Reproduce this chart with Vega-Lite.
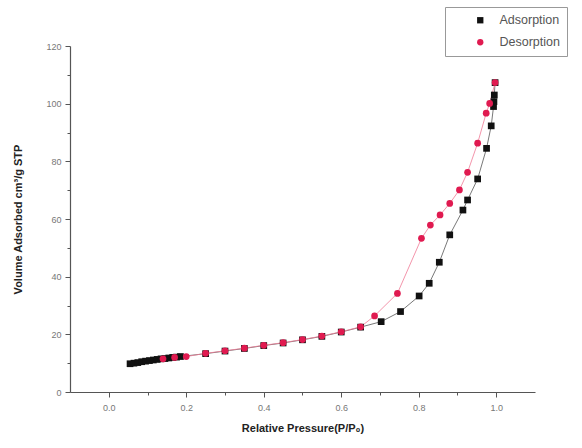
{
  "$schema": "https://vega.github.io/schema/vega-lite/v6.json",
  "width": 465,
  "height": 346,
  "autosize": "none",
  "padding": {"left": 70, "top": 46, "right": 47, "bottom": 56},
  "background": "white",
  "config": {
    "view": {"stroke": null},
    "font": "Liberation Sans"
  },
  "data": {
    "values": [
      {"series": "Adsorption", "p": 0.055, "v": 9.8},
      {"series": "Adsorption", "p": 0.065, "v": 10.0},
      {"series": "Adsorption", "p": 0.075, "v": 10.2},
      {"series": "Adsorption", "p": 0.085, "v": 10.5},
      {"series": "Adsorption", "p": 0.095, "v": 10.7},
      {"series": "Adsorption", "p": 0.105, "v": 10.9},
      {"series": "Adsorption", "p": 0.115, "v": 11.1},
      {"series": "Adsorption", "p": 0.125, "v": 11.3},
      {"series": "Adsorption", "p": 0.135, "v": 11.5},
      {"series": "Adsorption", "p": 0.145, "v": 11.6},
      {"series": "Adsorption", "p": 0.155, "v": 11.8},
      {"series": "Adsorption", "p": 0.165, "v": 12.0},
      {"series": "Adsorption", "p": 0.175, "v": 12.1},
      {"series": "Adsorption", "p": 0.185, "v": 12.3},
      {"series": "Adsorption", "p": 0.25, "v": 13.3},
      {"series": "Adsorption", "p": 0.3, "v": 14.2},
      {"series": "Adsorption", "p": 0.35, "v": 15.1},
      {"series": "Adsorption", "p": 0.4, "v": 16.1},
      {"series": "Adsorption", "p": 0.45, "v": 17.0},
      {"series": "Adsorption", "p": 0.5, "v": 18.1},
      {"series": "Adsorption", "p": 0.55, "v": 19.3},
      {"series": "Adsorption", "p": 0.6, "v": 20.8},
      {"series": "Adsorption", "p": 0.65, "v": 22.5},
      {"series": "Adsorption", "p": 0.703, "v": 24.4},
      {"series": "Adsorption", "p": 0.753, "v": 27.9},
      {"series": "Adsorption", "p": 0.801, "v": 33.3},
      {"series": "Adsorption", "p": 0.827, "v": 37.7},
      {"series": "Adsorption", "p": 0.853, "v": 45.0},
      {"series": "Adsorption", "p": 0.88, "v": 54.5},
      {"series": "Adsorption", "p": 0.914, "v": 63.1},
      {"series": "Adsorption", "p": 0.926, "v": 66.6},
      {"series": "Adsorption", "p": 0.952, "v": 73.9},
      {"series": "Adsorption", "p": 0.975, "v": 84.5},
      {"series": "Adsorption", "p": 0.987, "v": 92.3},
      {"series": "Adsorption", "p": 0.993, "v": 99.0},
      {"series": "Adsorption", "p": 0.994, "v": 100.7},
      {"series": "Adsorption", "p": 0.995, "v": 103.0},
      {"series": "Adsorption", "p": 0.997, "v": 107.3},
      {"series": "Desorption", "p": 0.14, "v": 11.5},
      {"series": "Desorption", "p": 0.17, "v": 12.0},
      {"series": "Desorption", "p": 0.2, "v": 12.3},
      {"series": "Desorption", "p": 0.25, "v": 13.4},
      {"series": "Desorption", "p": 0.3, "v": 14.3},
      {"series": "Desorption", "p": 0.35, "v": 15.2},
      {"series": "Desorption", "p": 0.4, "v": 16.2},
      {"series": "Desorption", "p": 0.45, "v": 17.1},
      {"series": "Desorption", "p": 0.5, "v": 18.2},
      {"series": "Desorption", "p": 0.55, "v": 19.4},
      {"series": "Desorption", "p": 0.6, "v": 20.9},
      {"series": "Desorption", "p": 0.65, "v": 22.6},
      {"series": "Desorption", "p": 0.686, "v": 26.4},
      {"series": "Desorption", "p": 0.745, "v": 34.2},
      {"series": "Desorption", "p": 0.807, "v": 53.3},
      {"series": "Desorption", "p": 0.83, "v": 57.9},
      {"series": "Desorption", "p": 0.855, "v": 61.4},
      {"series": "Desorption", "p": 0.88, "v": 65.4},
      {"series": "Desorption", "p": 0.905, "v": 70.1},
      {"series": "Desorption", "p": 0.926, "v": 76.2},
      {"series": "Desorption", "p": 0.952, "v": 86.3},
      {"series": "Desorption", "p": 0.974, "v": 96.7},
      {"series": "Desorption", "p": 0.983, "v": 100.1},
      {"series": "Desorption", "p": 0.997, "v": 107.3}
    ]
  },
  "encoding": {
    "x": {
      "field": "p", "type": "quantitative",
      "scale": {"domain": [-0.1, 1.1], "nice": false, "zero": false},
      "axis": {
        "title": "Relative Pressure(P/P₀)",
        "titleFont": "Liberation Sans", "titleFontSize": 11, "titleFontWeight": "bold", "titleColor": "#222",
        "titlePadding": 10,
        "values": [0, 0.1, 0.2, 0.3, 0.4, 0.5, 0.6, 0.7, 0.8, 0.9, 1.0],
        "labelExpr": "round(datum.value*10) % 2 == 0 ? format(datum.value, '.1f') : ''",
        "labelFontSize": 9, "labelColor": "#777", "labelPadding": 6,
        "tickSize": {"condition": {"test": "round(datum.value*10) % 2 == 0", "value": 5}, "value": 3},
        "tickColor": "#555", "domainColor": "#555", "domainWidth": 1.2, "grid": false
      }
    },
    "y": {
      "field": "v", "type": "quantitative",
      "scale": {"domain": [0, 120], "nice": false},
      "axis": {
        "title": "Volume Adsorbed cm³/g STP",
        "titleFont": "Liberation Sans", "titleFontSize": 11, "titleFontWeight": "bold", "titleColor": "#222",
        "titlePadding": 22,
        "values": [0, 10, 20, 30, 40, 50, 60, 70, 80, 90, 100, 110, 120],
        "labelExpr": "datum.value % 20 == 0 ? datum.value : ''",
        "labelFontSize": 9, "labelColor": "#777", "labelPadding": 4,
        "tickSize": {"condition": {"test": "datum.value % 20 == 0", "value": 5}, "value": 3},
        "tickColor": "#555", "domainColor": "#555", "domainWidth": 1.2, "grid": false
      }
    }
  },
  "layer": [
    {
      "transform": [{"filter": "datum.series == 'Adsorption'"}],
      "mark": {"type": "line", "strokeWidth": 0.8, "color": "#555555"},
      "encoding": {"order": {"field": "p", "type": "quantitative"}}
    },
    {
      "transform": [{"filter": "datum.series == 'Desorption'"}],
      "mark": {"type": "line", "strokeWidth": 0.8, "color": "#f07a95"},
      "encoding": {"order": {"field": "p", "type": "quantitative"}}
    },
    {
      "mark": {"type": "point", "filled": true, "opacity": 1, "size": 45},
      "encoding": {
        "color": {"field": "series", "type": "nominal", "scale": {"domain": ["Adsorption", "Desorption"], "range": ["#111111", "#e01a50"]},
          "legend": {
            "title": null, "orient": "none", "legendX": 375, "legendY": -39,
            "labelFont": "Liberation Sans", "labelFontSize": 12.5, "labelColor": "#555",
            "strokeColor": "#999", "fillColor": "white", "padding": 7,
            "symbolSize": 40, "rowPadding": 9, "labelOffset": 13, "symbolOffset": 22
          }
        },
        "shape": {"field": "series", "type": "nominal", "scale": {"domain": ["Adsorption", "Desorption"], "range": ["square", "circle"]},
          "legend": {
            "title": null, "orient": "none", "legendX": 375, "legendY": -39,
            "labelFont": "Liberation Sans", "labelFontSize": 12.5, "labelColor": "#555",
            "strokeColor": "#999", "fillColor": "white", "padding": 7,
            "symbolSize": 40, "rowPadding": 9, "labelOffset": 13, "symbolOffset": 22
          }
        }
      }
    }
  ]
}
